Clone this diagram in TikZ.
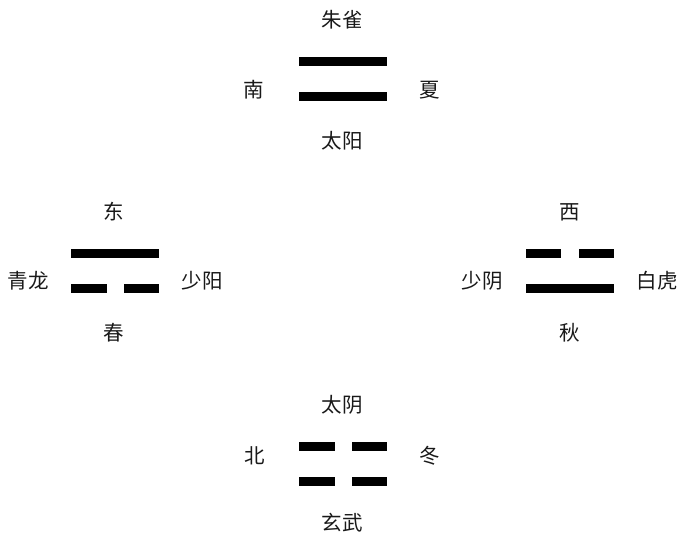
\documentclass[tikz,border=0pt]{standalone}
\usepackage{fontspec}
\newfontfamily\cjk{Noto Sans CJK SC}
\begin{document}
\begin{tikzpicture}[x=1pt,y=-1pt,
  lbl/.style={font=\cjk\fontsize{20.5}{22}\selectfont, inner sep=0pt, text=black!90},
  yao/.style={fill=black, draw=none}]
\useasboundingbox (0,0) rectangle (684,539);
% top: taiyang
\fill[yao] (299,57) rectangle (387,66);
\fill[yao] (299,92) rectangle (387,101);
\node[lbl] (t1) at (342,20) {朱雀};
\node[lbl] (t2) at (254,90) {南};
\node[lbl] (t3) at (430,90) {夏};
\node[lbl] (t4) at (342,141) {太阳};
% left: shaoyang
\fill[yao] (71,249) rectangle (159,258);
\fill[yao] (71,284) rectangle (107,293);
\fill[yao] (124,284) rectangle (159,293);
\node[lbl] (l1) at (114,212) {东};
\node[lbl] (l2) at (28,281) {青龙};
\node[lbl] (l3) at (202,281) {少阳};
\node[lbl] (l4) at (114,333) {春};
% right: shaoyin
\fill[yao] (526,249) rectangle (561,258);
\fill[yao] (579,249) rectangle (614,258);
\fill[yao] (526,284) rectangle (614,293);
\node[lbl] (r1) at (570,212) {西};
\node[lbl] (r2) at (482,281) {少阴};
\node[lbl] (r3) at (657,281) {白虎};
\node[lbl] (r4) at (570,333) {秋};
% bottom: taiyin
\fill[yao] (299,442) rectangle (335,451);
\fill[yao] (352,442) rectangle (387,451);
\fill[yao] (299,477) rectangle (335,486);
\fill[yao] (352,477) rectangle (387,486);
\node[lbl] (b1) at (342,405) {太阴};
\node[lbl] (b2) at (255,456) {北};
\node[lbl] (b3) at (430,456) {冬};
\node[lbl] (b4) at (342,523) {玄武};
\end{tikzpicture}
\end{document}
